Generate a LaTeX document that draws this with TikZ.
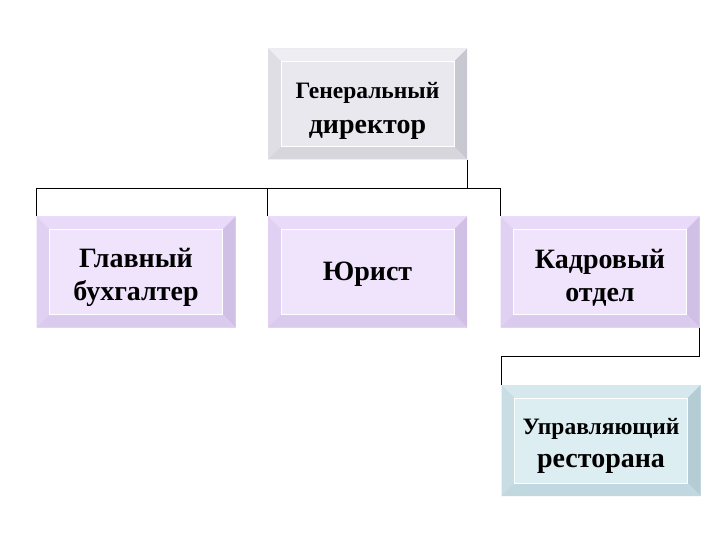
\documentclass[tikz,border=0pt]{standalone}
\usepackage{fontspec}
\setmainfont{Liberation Serif}
\definecolor{gF}{HTML}{E8E8EE}\definecolor{gT}{HTML}{EEEEF2}\definecolor{gL}{HTML}{DEDEE4}\definecolor{gR}{HTML}{C8C8D0}\definecolor{gB}{HTML}{D6D6DC}
\definecolor{pF}{HTML}{F0E4FC}\definecolor{pT}{HTML}{E8DAF8}\definecolor{pL}{HTML}{E0D0F2}\definecolor{pR}{HTML}{D0C0E6}\definecolor{pB}{HTML}{DACAEE}
\definecolor{cF}{HTML}{DCEEF2}\definecolor{cT}{HTML}{D4E8EE}\definecolor{cL}{HTML}{C8DEE4}\definecolor{cR}{HTML}{B4CCD4}\definecolor{cB}{HTML}{C2D8E0}
\newcommand\mybevels[1]{%
  \coordinate (NW) at (path picture bounding box.north west);
  \coordinate (NE) at (path picture bounding box.north east);
  \coordinate (SW) at (path picture bounding box.south west);
  \coordinate (SE) at (path picture bounding box.south east);
  \fill[#1T] (NW) -- (NE) -- ([shift={(-13pt,-13pt)}]NE) -- ([shift={(13pt,-13pt)}]NW) -- cycle;
  \fill[#1L] (NW) -- (SW) -- ([shift={(13pt,13pt)}]SW) -- ([shift={(13pt,-13pt)}]NW) -- cycle;
  \fill[#1R] (NE) -- (SE) -- ([shift={(-13pt,13pt)}]SE) -- ([shift={(-13pt,-13pt)}]NE) -- cycle;
  \fill[#1B] (SW) -- (SE) -- ([shift={(-13pt,13pt)}]SE) -- ([shift={(13pt,13pt)}]SW) -- cycle;
  \draw[white, line width=0.6pt] ([shift={(13pt,13pt)}]SW) rectangle ([shift={(-13pt,-13pt)}]NE);
}
\tikzset{
  bbox/.style={rectangle, minimum width=199pt, minimum height=111pt, inner sep=0pt,
    align=center, fill=#1F, path picture={\mybevels{#1}}},
  conn/.style={draw=black, line width=0.9pt},
  fA/.style={font=\bfseries\fontsize{28}{33}\selectfont},
  fB/.style={font=\bfseries\fontsize{28}{35}\selectfont},
}
\newcommand\smallline[1]{{\fontsize{23.5}{23.5}\selectfont #1}}
\newcommand\pushdown[1]{\rule{0pt}{#1}}
\begin{document}
\begin{tikzpicture}[x=1pt,y=-1pt]
\useasboundingbox[fill=white] (0,0) rectangle (720,540);
\node[bbox=g, fB] (top) at (367.5,104) {\pushdown{30pt}\smallline{Генеральный}\\директор};
\node[bbox=p, fA] (b1) at (136,272) {\pushdown{31pt}Главный\\бухгалтер};
\node[bbox=p, fA] (b2) at (367.5,272) {\pushdown{22pt}Юрист};
\node[bbox=p, fA] (b3) at (600,272) {\pushdown{31pt}Кадровый\\отдел};
\node[bbox=c, fA] (b4) at (601,440.5) {\pushdown{26pt}\smallline{Управляющий}\\ресторана};
\coordinate (bus) at (0,188);
\coordinate (bus2) at (0,356);
\draw[conn] (top.south east) -- (top.south east |- bus);
\draw[conn] (b1.north west) -- (b1.north west |- bus) -- (b3.north west |- bus) -- (b3.north west);
\draw[conn] (b2.north west) -- (b2.north west |- bus);
\draw[conn] (b3.south east) -- (b3.south east |- bus2) -- (b4.north west |- bus2) -- (b4.north west);
\end{tikzpicture}
\end{document}
